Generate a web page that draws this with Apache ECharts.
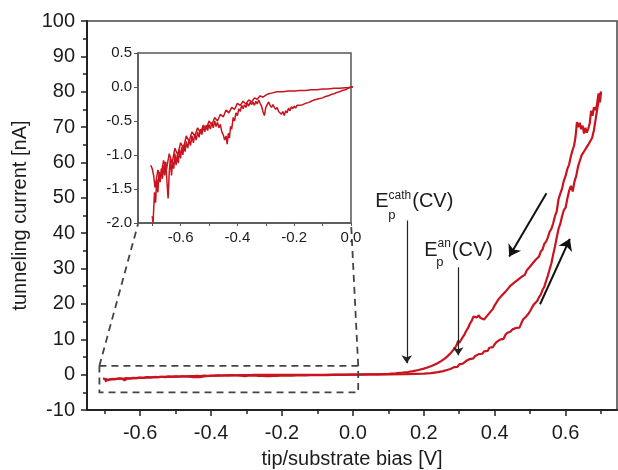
<!DOCTYPE html>
<html>
<head>
<meta charset="utf-8">
<script src="https://cdn.jsdelivr.net/npm/echarts@6.0.0/dist/echarts.min.js"></script>
<style>
html, body { margin: 0; padding: 0; background: #fff; }
#chart { width: 618px; height: 470px; }
</style>
</head>
<body>
<div id="chart"></div>
<script>
// bias [V], current [nA] -- forward scan (lower branch above 0.2 V)
const forwardScan = [
  [-0.700, -1.90], [-0.697, -2.00], [-0.692, -1.55], [-0.688, -1.70], [-0.684, -1.35], [-0.680, -1.55],
  [-0.676, -1.25], [-0.672, -1.40], [-0.668, -1.20], [-0.664, -1.35], [-0.660, -1.15], [-0.656, -1.30],
  [-0.652, -1.10], [-0.648, -1.40], [-0.644, -1.64], [-0.640, -1.25], [-0.636, -1.05], [-0.632, -1.30],
  [-0.628, -1.10], [-0.624, -1.20], [-0.620, -0.98], [-0.616, -1.15], [-0.612, -1.00], [-0.608, -1.12],
  [-0.604, -0.92], [-0.600, -1.05], [-0.596, -0.88], [-0.592, -1.00], [-0.588, -0.85], [-0.584, -0.95],
  [-0.580, -0.80], [-0.575, -0.90], [-0.570, -0.78], [-0.565, -0.86], [-0.560, -0.72], [-0.555, -0.82],
  [-0.550, -0.70], [-0.545, -0.78], [-0.540, -0.66], [-0.535, -0.74], [-0.530, -0.62], [-0.525, -0.70],
  [-0.520, -0.58], [-0.515, -0.66], [-0.510, -0.56], [-0.505, -0.64], [-0.500, -0.55], [-0.495, -0.62],
  [-0.490, -0.52], [-0.485, -0.60], [-0.480, -0.50], [-0.475, -0.58], [-0.470, -0.52], [-0.465, -0.60],
  [-0.460, -0.55], [-0.455, -0.66], [-0.450, -0.70], [-0.445, -0.78], [-0.440, -0.72], [-0.436, -0.84],
  [-0.432, -0.68], [-0.428, -0.75], [-0.424, -0.58], [-0.420, -0.62], [-0.415, -0.45], [-0.410, -0.50],
  [-0.405, -0.38], [-0.400, -0.42], [-0.395, -0.32], [-0.390, -0.36], [-0.385, -0.27], [-0.380, -0.32],
  [-0.375, -0.26], [-0.370, -0.30], [-0.365, -0.24], [-0.360, -0.28], [-0.355, -0.22], [-0.350, -0.26],
  [-0.345, -0.22], [-0.340, -0.27], [-0.335, -0.21], [-0.330, -0.25], [-0.325, -0.19], [-0.320, -0.24],
  [-0.315, -0.28], [-0.310, -0.36], [-0.305, -0.42], [-0.300, -0.30], [-0.295, -0.26], [-0.290, -0.22],
  [-0.285, -0.27], [-0.280, -0.30], [-0.275, -0.26], [-0.270, -0.30], [-0.265, -0.33], [-0.260, -0.30],
  [-0.255, -0.36], [-0.250, -0.34], [-0.245, -0.40], [-0.240, -0.36], [-0.235, -0.42], [-0.230, -0.35],
  [-0.225, -0.38], [-0.220, -0.31], [-0.215, -0.35], [-0.210, -0.29], [-0.205, -0.32], [-0.200, -0.28],
  [-0.195, -0.31], [-0.190, -0.27], [-0.185, -0.29], [-0.180, -0.27], [-0.170, -0.26], [-0.160, -0.24],
  [-0.150, -0.23], [-0.140, -0.21], [-0.130, -0.19], [-0.120, -0.18], [-0.110, -0.17], [-0.100, -0.16],
  [-0.090, -0.14], [-0.080, -0.13], [-0.070, -0.11], [-0.060, -0.10], [-0.050, -0.08], [-0.040, -0.07],
  [-0.030, -0.05], [-0.020, -0.04], [-0.010, -0.02], [0.000, 0.00],
  [0.010, 0.00], [0.050, 0.05], [0.100, 0.10], [0.150, 0.15], [0.200, 0.30], [0.220, 0.45],
  [0.240, 0.70], [0.255, 1.00], [0.265, 1.30], [0.275, 1.60], [0.285, 2.10], [0.290, 2.30],
  [0.295, 2.20], [0.300, 2.90], [0.305, 3.30], [0.310, 3.10], [0.315, 3.60], [0.320, 3.90],
  [0.325, 3.70], [0.330, 4.40], [0.335, 4.80], [0.340, 4.60], [0.345, 5.30], [0.350, 5.10],
  [0.355, 5.80], [0.360, 6.20], [0.365, 5.90], [0.370, 6.60], [0.375, 6.90], [0.380, 6.70],
  [0.385, 7.60], [0.390, 8.00], [0.395, 7.80], [0.400, 8.60], [0.405, 9.20], [0.410, 8.90],
  [0.415, 9.90], [0.420, 10.40], [0.425, 10.10], [0.430, 11.20], [0.435, 11.80], [0.440, 11.50],
  [0.445, 12.20], [0.450, 12.80], [0.455, 12.40], [0.460, 13.20], [0.465, 13.60], [0.470, 13.30],
  [0.475, 14.50], [0.480, 15.60], [0.485, 15.10], [0.490, 16.60], [0.495, 17.20], [0.500, 18.00],
  [0.505, 18.90], [0.510, 19.80], [0.515, 19.40], [0.520, 20.80], [0.525, 21.90], [0.530, 22.60],
  [0.535, 24.00], [0.540, 24.80], [0.545, 26.50], [0.550, 28.00], [0.555, 29.80], [0.560, 31.50],
  [0.565, 34.00], [0.570, 36.20], [0.575, 38.80], [0.580, 41.20], [0.585, 42.60], [0.590, 44.80],
  [0.595, 46.50], [0.600, 47.20], [0.605, 49.80], [0.610, 52.00], [0.615, 53.40], [0.620, 51.80],
  [0.625, 54.60], [0.630, 56.20], [0.635, 58.80], [0.640, 60.40], [0.645, 62.00], [0.650, 62.80],
  [0.655, 63.60], [0.660, 64.40], [0.665, 65.20], [0.670, 65.60], [0.675, 67.00], [0.680, 69.20],
  [0.685, 72.40], [0.690, 75.60], [0.695, 78.20], [0.700, 80.00]
]

// reverse scan (upper branch above 0.2 V)
const reverseScan = [
  [0.700, 80.00], [0.697, 77.00], [0.693, 79.50], [0.688, 76.00], [0.684, 74.80], [0.680, 75.60],
  [0.676, 73.20], [0.672, 74.60], [0.668, 71.00], [0.664, 69.60], [0.660, 68.40], [0.656, 69.80],
  [0.652, 68.20], [0.648, 70.40], [0.644, 69.40], [0.640, 71.20], [0.636, 70.00], [0.632, 71.40],
  [0.628, 67.20], [0.624, 64.80], [0.620, 63.60], [0.615, 61.80], [0.610, 59.40], [0.605, 58.20],
  [0.600, 56.20], [0.595, 54.80], [0.590, 52.60], [0.585, 51.20], [0.580, 49.60], [0.575, 46.20],
  [0.570, 44.80], [0.565, 42.80], [0.560, 41.20], [0.555, 40.40], [0.550, 38.80], [0.545, 37.60],
  [0.540, 37.00], [0.535, 35.40], [0.530, 34.80], [0.525, 33.40], [0.520, 33.80], [0.515, 32.40],
  [0.510, 32.00], [0.505, 31.20], [0.500, 30.60], [0.495, 30.00], [0.490, 29.40], [0.485, 28.20],
  [0.480, 28.60], [0.475, 27.60], [0.470, 28.00], [0.465, 26.80], [0.460, 27.20], [0.455, 26.00],
  [0.450, 25.80], [0.445, 25.20], [0.440, 24.60], [0.435, 24.20], [0.430, 23.40], [0.425, 23.80],
  [0.420, 22.40], [0.415, 22.80], [0.410, 21.20], [0.405, 20.40], [0.400, 19.60], [0.395, 18.60],
  [0.390, 18.20], [0.385, 17.40], [0.380, 17.00], [0.375, 16.20], [0.370, 15.60], [0.365, 15.20],
  [0.360, 16.00], [0.355, 16.80], [0.350, 16.20], [0.345, 15.80], [0.340, 16.40], [0.335, 15.20],
  [0.330, 14.40], [0.325, 13.20], [0.320, 12.40], [0.315, 11.40], [0.310, 10.60], [0.305, 9.80],
  [0.300, 9.00], [0.297, 9.60], [0.293, 8.40], [0.288, 7.60], [0.282, 6.80], [0.275, 6.00],
  [0.268, 5.30], [0.260, 4.60], [0.250, 3.90], [0.240, 3.30], [0.230, 2.80], [0.220, 2.40],
  [0.210, 2.00], [0.200, 1.70], [0.185, 1.30], [0.170, 1.00], [0.155, 0.75], [0.140, 0.55],
  [0.120, 0.35], [0.100, 0.20], [0.070, 0.10], [0.040, 0.05], [0.010, 0.00], [0.000, 0.00],
  [-0.010, -0.01], [-0.020, -0.01], [-0.040, -0.02], [-0.060, -0.02], [-0.080, -0.03], [-0.100, -0.03],
  [-0.120, -0.04], [-0.140, -0.04], [-0.160, -0.05], [-0.180, -0.05], [-0.200, -0.06], [-0.220, -0.06],
  [-0.240, -0.07], [-0.260, -0.07], [-0.280, -0.09], [-0.290, -0.10], [-0.300, -0.12], [-0.310, -0.15],
  [-0.320, -0.13], [-0.330, -0.18], [-0.340, -0.16], [-0.350, -0.22], [-0.360, -0.19], [-0.370, -0.25],
  [-0.380, -0.21], [-0.390, -0.27], [-0.400, -0.24], [-0.410, -0.33], [-0.420, -0.30], [-0.430, -0.38],
  [-0.440, -0.34], [-0.450, -0.44], [-0.460, -0.40], [-0.470, -0.50], [-0.480, -0.45], [-0.490, -0.56],
  [-0.500, -0.50], [-0.510, -0.62], [-0.520, -0.56], [-0.530, -0.68], [-0.540, -0.60], [-0.550, -0.72],
  [-0.560, -0.66], [-0.570, -0.80], [-0.580, -0.72], [-0.590, -0.90], [-0.600, -0.82], [-0.610, -1.00],
  [-0.620, -0.90], [-0.630, -1.12], [-0.640, -0.98], [-0.650, -1.22], [-0.660, -1.08], [-0.670, -1.32],
  [-0.680, -1.22], [-0.690, -1.48], [-0.695, -1.30], [-0.700, -1.20], [-0.705, -1.15]
]

const xMajor = [-0.6, -0.4, -0.2, 0.0, 0.2, 0.4, 0.6]
const xMinor = [-0.7, -0.5, -0.3, -0.1, 0.1, 0.3, 0.5, 0.7]
const insetXLabels = [-0.6, -0.4, -0.2, 0.0]
const insetXTicks = [-0.7, -0.6, -0.5, -0.4, -0.3, -0.2, -0.1, 0.0]

// annotations (main plot data coordinates)
const zoomBox = [[-0.715, 2.5], [0.015, 2.5], [0.015, -5], [-0.715, -5], [-0.715, 2.5]]
const zoomLeft = [[-0.715, 2.5], [-0.606, 42.6]]
const zoomRight = [[0.015, 2.5], [-0.005, 42.6]]
const peakArrows = [
  [[0.152, 43.6], [0.152, 3.2]],
  [[0.297, 30.4], [0.297, 5.5]],
]
const scanArrows = [
  [[0.546, 51.3], [0.441, 33.4]],
  [[0.528, 19.9], [0.612, 38.4]],
]

const font = "'Liberation Sans', Arial, sans-serif"
const red = '#c8141e'
const ink = '#1c1c1c'
const fmt1 = v => Number(v).toFixed(1)

const chart = echarts.init(document.getElementById('chart'))

chart.setOption({
  animation: false,
  backgroundColor: '#fff',
  grid: [
    { left: 87, top: 21, right: 1, bottom: 60, show: true, borderColor: '#444', borderWidth: 1.5, outerBoundsMode: 'none' },
    { left: 138, top: 53, width: 213, height: 170, show: true, borderColor: '#555', borderWidth: 1.5, backgroundColor: '#fff', outerBoundsMode: 'none', z: 5 },
  ],
  xAxis: [
    {
      gridIndex: 0, type: 'value', min: -0.75, max: 0.745,
      name: 'tip/substrate bias [V]', nameLocation: 'middle', nameGap: 39,
      nameTextStyle: { fontSize: 20, color: ink, fontFamily: font },
      axisLine: { show: true, onZero: false, lineStyle: { color: '#222', width: 2 } },
      axisTick: { show: true, customValues: xMajor, length: 6, lineStyle: { color: '#222', width: 1.5 } },
      axisLabel: { customValues: xMajor, formatter: fmt1, fontSize: 20, color: ink, fontFamily: font, margin: 13 },
      splitLine: { show: false },
    },
    {
      gridIndex: 0, type: 'value', min: -0.75, max: 0.745, position: 'bottom',
      axisLine: { show: false, onZero: false },
      axisTick: { show: true, customValues: xMinor, length: 4, lineStyle: { color: '#222', width: 1.5 } },
      axisLabel: { show: false },
      splitLine: { show: false },
    },
    {
      gridIndex: 1, type: 'value', min: -0.75, max: 0,
      axisLine: { show: true, onZero: false, lineStyle: { color: '#555', width: 1.5 } },
      axisTick: { show: true, customValues: insetXTicks, length: 3, lineStyle: { color: '#555' } },
      axisLabel: { customValues: insetXLabels, formatter: fmt1, fontSize: 15, color: ink, fontFamily: font, margin: 7 },
      splitLine: { show: false },
      z: 6,
    },
  ],
  yAxis: [
    {
      gridIndex: 0, type: 'value', min: -10, max: 100, interval: 10,
      name: 'tunneling current [nA]', nameLocation: 'middle', nameGap: 55,
      nameTextStyle: { fontSize: 20, color: ink, fontFamily: font },
      axisLine: { show: true, onZero: false, lineStyle: { color: '#222', width: 2 } },
      axisTick: { show: true, length: 6, lineStyle: { color: '#222', width: 1.5 } },
      minorTick: { show: true, splitNumber: 2, length: 4, lineStyle: { color: '#222', width: 1.5 } },
      axisLabel: { fontSize: 20, color: ink, fontFamily: font, margin: 12 },
      splitLine: { show: false },
    },
    {
      gridIndex: 1, type: 'value', min: -2, max: 0.5, interval: 0.5,
      axisLine: { show: true, onZero: false, lineStyle: { color: '#555', width: 1.5 } },
      axisTick: { show: true, length: 4, lineStyle: { color: '#555' } },
      axisLabel: { formatter: fmt1, fontSize: 15, color: ink, fontFamily: font, margin: 6 },
      splitLine: { show: false },
      z: 6,
    },
  ],
  series: [
    {
      type: 'line', xAxisIndex: 0, yAxisIndex: 0, data: forwardScan,
      showSymbol: false, symbol: 'none', lineStyle: { color: red, width: 2.2 }, z: 3,
    },
    {
      type: 'line', xAxisIndex: 0, yAxisIndex: 0, data: reverseScan,
      showSymbol: false, symbol: 'none', lineStyle: { color: red, width: 2.2 }, z: 3,
    },
    {
      type: 'line', xAxisIndex: 2, yAxisIndex: 1, data: forwardScan, clip: true,
      showSymbol: false, symbol: 'none', lineStyle: { color: red, width: 1.5 }, z: 7,
    },
    {
      type: 'line', xAxisIndex: 2, yAxisIndex: 1, data: reverseScan, clip: true,
      showSymbol: false, symbol: 'none', lineStyle: { color: red, width: 1.5 }, z: 7,
    },
    {
      type: 'lines', coordinateSystem: 'cartesian2d', xAxisIndex: 0, yAxisIndex: 0, polyline: true,
      data: [{ coords: zoomBox }, { coords: zoomLeft }, { coords: zoomRight }],
      lineStyle: { color: '#444', width: 1.8, type: [7, 5], opacity: 1 }, silent: true, z: 4,
    },
    {
      type: 'lines', coordinateSystem: 'cartesian2d', xAxisIndex: 0, yAxisIndex: 0,
      data: peakArrows.map(c => ({ coords: c })),
      symbol: ['none', 'arrow'], symbolSize: 8,
      lineStyle: { color: '#222', width: 1.2, opacity: 1 }, silent: true, z: 4,
    },
    {
      type: 'lines', coordinateSystem: 'cartesian2d', xAxisIndex: 0, yAxisIndex: 0,
      data: scanArrows.map(c => ({ coords: c })),
      symbol: ['none', 'arrow'], symbolSize: 11,
      lineStyle: { color: '#111', width: 2, opacity: 1 }, silent: true, z: 4,
    },
    {
      type: 'scatter', xAxisIndex: 0, yAxisIndex: 0, symbolSize: 0, silent: true, z: 4,
      itemStyle: { opacity: 1 },
      label: {
        show: true, position: 'right', distance: 0, color: ink, fontFamily: font, opacity: 1,
        rich: {
          e: { fontSize: 20, lineHeight: 24, fontFamily: font, color: ink },
          s: { fontSize: 12, lineHeight: 24, verticalAlign: 'top', fontFamily: font, color: ink, padding: [0, 1, 0, 0] },
          b: { fontSize: 13, fontFamily: font, color: ink },
        },
      },
      data: [
        { value: [0.063, 48.9], label: { formatter: '{e|E}{s|cath}{e|(CV)}' } },
        { value: [0.100, 45.0], label: { formatter: '{b|p}' } },
        { value: [0.201, 35.2], label: { formatter: '{e|E}{s|an}{e|(CV)}' } },
        { value: [0.235, 31.6], label: { formatter: '{b|p}' } },
      ],
    },
  ],
})
</script>
</body>
</html>
